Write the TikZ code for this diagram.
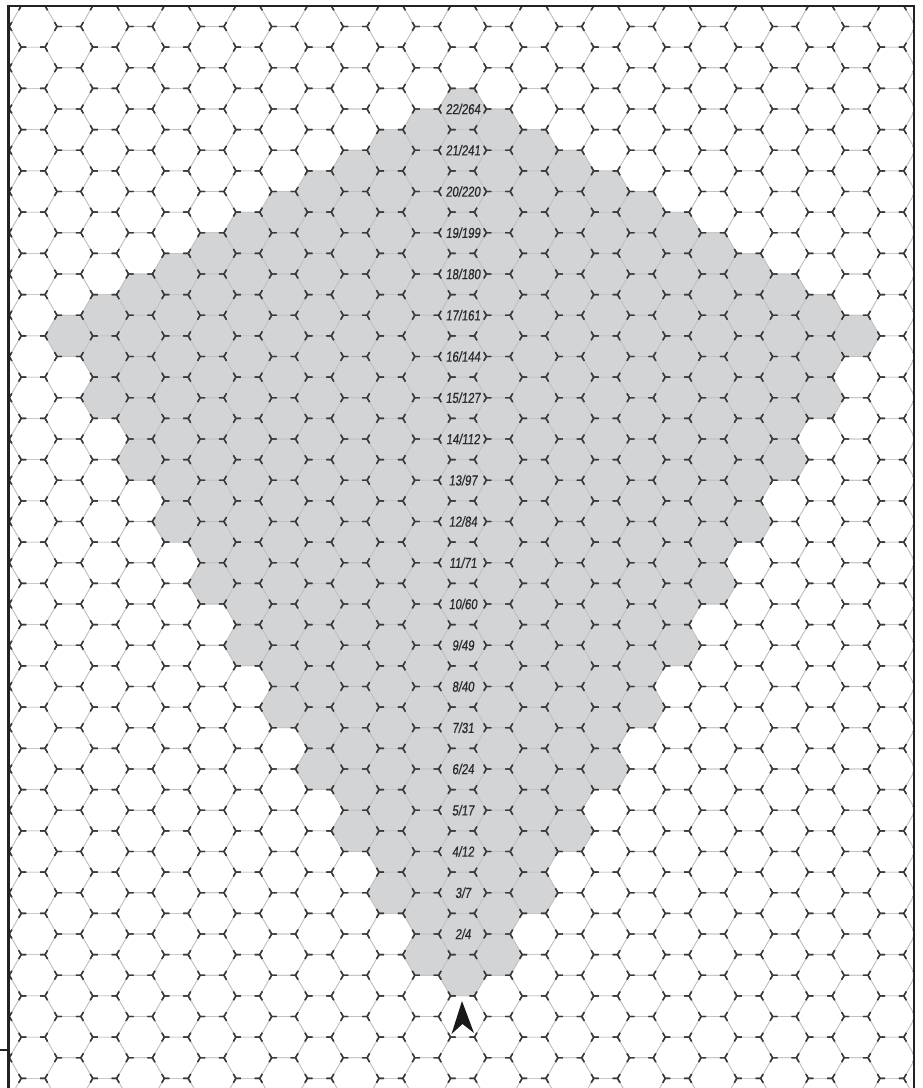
\documentclass[tikz,border=0pt]{standalone}
\usepackage{fontspec}
\newfontfamily\labfont[FakeStretch=0.78,FakeSlant=0.12,FakeBold=0.6]{Liberation Sans}
\definecolor{shadegray}{HTML}{D3D4D6}
\definecolor{gridlight}{HTML}{C2C2C2}
\definecolor{markdark}{HTML}{3A3A3A}
\definecolor{framedark}{HTML}{222222}
\definecolor{labtext}{HTML}{2A2A2A}
\tikzset{
  hexfill/.style={fill=shadegray},
  hexline/.style={draw=gridlight, line width=0.7pt},
  hexmark/.style={draw=markdark, line width=1.4pt, dash pattern=on 10pt off 13.85pt, dash phase=5pt},
  framestyle/.style={draw=framedark},
  lab/.style={font=\labfont\fontsize{14.5}{15}\selectfont, text=labtext, inner sep=0pt},
  arrowshape/.style={fill=black!90}
}
\newcommand\hexat[3]{\path[#1] (#2,#3) ++(23.85,0) -- ++(-11.925,20.625) -- ++(-23.85,0) -- ++(-11.925,-20.625) -- ++(11.925,-20.625) -- ++(23.85,0) -- cycle;}
\begin{document}
\begin{tikzpicture}[x=1pt,y=-1pt]
\useasboundingbox (0,0) rectangle (922,1088);
\fill[white] (0,0) rectangle (922,1088);
\begin{scope}
\clip (9.5,7) rectangle (913,1088);
% shaded cells
\foreach \k in {-13,...,13}{
  \foreach \n in {-3,...,26}{
    \pgfmathsetmacro\nn{\n+0.5*mod(abs(\k),2)}
    \pgfmathtruncatemacro\sh{((\nn>=1.5*abs(\k))&&(\nn<=22-0.5*abs(\k))&&(\nn>=1)) ? 1 : 0}
    \ifnum\sh=1
      \pgfmathsetmacro\X{462.5+35.78*\k}
      \pgfmathsetmacro\Y{1016.5-41.25*\nn}
      \hexat{hexfill}{\X}{\Y}
    \fi
  }
}
% light grid
\foreach \k in {-13,...,13}{
  \foreach \n in {-3,...,26}{
    \pgfmathsetmacro\X{462.5+35.78*\k}
    \pgfmathsetmacro\Y{1016.5-41.25*(\n+0.5*mod(abs(\k),2))}
    \hexat{hexline}{\X}{\Y}
  }
}
% dark vertex marks
\foreach \k in {-13,...,13}{
  \foreach \n in {-3,...,26}{
    \pgfmathsetmacro\X{462.5+35.78*\k}
    \pgfmathsetmacro\Y{1016.5-41.25*(\n+0.5*mod(abs(\k),2))}
    \hexat{hexmark}{\X}{\Y}
  }
}
\end{scope}
% labels
\foreach \n/\N in {2/4,3/7,4/12,5/17,6/24,7/31,8/40,9/49,10/60,11/71,12/84,13/97,14/112,15/127,16/144,17/161,18/180,19/199,20/220,21/241,22/264}{
  \pgfmathsetmacro\Y{1016.5-41.25*\n}
  \node[lab] (lab\n) at (463,\Y) {\n/\N};
}
% arrow
\fill[arrowshape] (462,1001) -- (474,1033) -- (462.5,1024) -- (451.5,1034) -- cycle;
% frame
\draw[framestyle, line width=3pt] (8.5,4.5) -- (8.5,1088);
\draw[framestyle, line width=2pt] (7,6) -- (915,6);
\draw[framestyle, line width=2.5pt] (914,5) -- (914,1088);
\draw[framestyle, line width=2pt] (0,1050) -- (8,1050);
\end{tikzpicture}
\end{document}
